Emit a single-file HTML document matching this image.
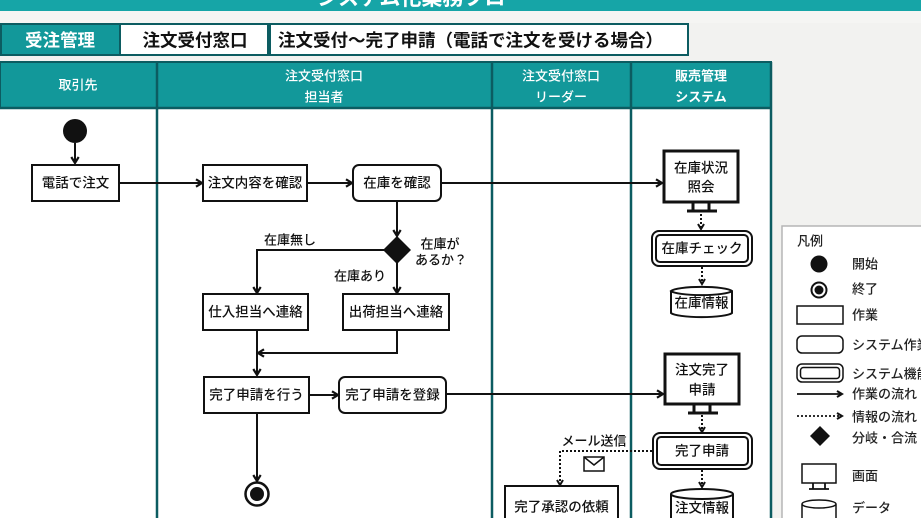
<!DOCTYPE html>
<html><head><meta charset="utf-8">
<style>
html,body{margin:0;padding:0;width:921px;height:518px;overflow:hidden;background:#f3f3f1;}
svg{display:block;font-family:"Liberation Sans","Noto Sans CJK JP",sans-serif;}
</style></head>
<body>
<svg width="921" height="518" viewBox="0 0 921 518" xmlns="http://www.w3.org/2000/svg">
<defs>
<marker id="a" markerWidth="10" markerHeight="10" refX="7" refY="4.5" orient="auto" markerUnits="userSpaceOnUse">
<path d="M1,0.8 L7,4.5 L1,8.2" fill="none" stroke="#111" stroke-width="2.2"/>
</marker>
<marker id="d" markerWidth="10" markerHeight="10" refX="6" refY="4" orient="auto" markerUnits="userSpaceOnUse">
<path d="M1,1 L6,4 L1,7" fill="none" stroke="#111" stroke-width="2"/>
</marker>
</defs>

<rect x="0" y="0" width="921" height="518" fill="#f2f2f0"/>
<rect x="0" y="0" width="921" height="11" fill="#16a5a7"/>
<text x="317" y="5" font-size="21" font-weight="bold" fill="#fff">システム化業務フロー</text>
<rect x="0" y="11" width="921" height="12" fill="#f5f5f3"/>

<rect x="1" y="24" width="119" height="31" fill="#12989a" stroke="#0c5c61" stroke-width="2"/>
<rect x="120" y="24" width="148" height="31" fill="#fff" stroke="#0c5c61" stroke-width="2"/>
<rect x="270" y="24" width="418" height="31" fill="#fff" stroke="#0c5c61" stroke-width="2"/>
<text x="60" y="40.5" font-size="17.5" font-weight="bold" fill="#fff" text-anchor="middle" dominant-baseline="central">受注管理</text>
<text x="195" y="40.5" font-size="17.5" font-weight="bold" fill="#111" text-anchor="middle" dominant-baseline="central">注文受付窓口</text>
<text x="278" y="40.5" font-size="17.5" font-weight="bold" fill="#111" dominant-baseline="central">注文受付～完了申請（電話で注文を受ける場合）</text>

<rect x="0" y="108" width="771" height="420" fill="#fff"/>
<rect x="0" y="62" width="771" height="46" fill="#12989a" stroke="#0c5c61" stroke-width="2"/>
<g stroke="#0c5c61" stroke-width="2.5">
<line x1="157" y1="62" x2="157" y2="518"/>
<line x1="492" y1="62" x2="492" y2="518"/>
<line x1="631" y1="62" x2="631" y2="518"/>
<line x1="771" y1="62" x2="771" y2="518"/>
<line x1="0" y1="108" x2="771" y2="108"/>
</g>
<g font-size="13" font-weight="500" fill="#fff" text-anchor="middle" dominant-baseline="central">
<text x="78" y="85">取引先</text>
<text x="324" y="76">注文受付窓口</text>
<text x="324" y="97">担当者</text>
<text x="561" y="76">注文受付窓口</text>
<text x="561" y="97">リーダー</text>
<text x="701" y="76" font-weight="bold">販売管理</text>
<text x="701" y="97" font-weight="bold">システム</text>
</g>

<g stroke="#111" stroke-width="2" fill="none">
<line x1="75" y1="143" x2="75" y2="163" marker-end="url(#a)"/>
<line x1="119" y1="183" x2="202" y2="183" marker-end="url(#a)"/>
<line x1="307" y1="183" x2="352" y2="183" marker-end="url(#a)"/>
<line x1="441" y1="183" x2="662" y2="183" marker-end="url(#a)"/>
<line x1="397" y1="201" x2="397" y2="236" marker-end="url(#a)"/>
<polyline points="384,250 257,250 257,293" marker-end="url(#a)"/>
<line x1="397" y1="263" x2="397" y2="293" marker-end="url(#a)"/>
<line x1="257" y1="330" x2="257" y2="375" marker-end="url(#a)"/>
<polyline points="397,330 397,353 258,353" marker-end="url(#a)"/>
<line x1="309" y1="395" x2="338" y2="395" marker-end="url(#a)"/>
<line x1="446" y1="394" x2="663" y2="394" marker-end="url(#a)"/>
<line x1="257" y1="413" x2="257" y2="481" marker-end="url(#a)"/>
</g>
<g stroke="#111" stroke-width="2" fill="none" stroke-dasharray="2,2">
<line x1="701" y1="214" x2="701" y2="229" marker-end="url(#d)"/>
<line x1="702" y1="267" x2="702" y2="284" marker-end="url(#d)"/>
<line x1="702" y1="415" x2="702" y2="432" marker-end="url(#d)"/>
<line x1="702" y1="470" x2="702" y2="487" marker-end="url(#d)"/>
<polyline points="652,451 560,451 560,485" marker-end="url(#d)"/>
</g>

<circle cx="75" cy="131" r="12" fill="#111"/>
<circle cx="257" cy="494" r="11.5" fill="#fff" stroke="#111" stroke-width="2.5"/>
<circle cx="257" cy="494" r="7" fill="#111"/>

<g fill="#fff" stroke="#111" stroke-width="2">
<rect x="32" y="165" width="87" height="36"/>
<rect x="203" y="165" width="104" height="36"/>
<rect x="353" y="165" width="88" height="36" rx="6"/>
<rect x="203" y="294" width="105" height="36"/>
<rect x="343" y="294" width="106" height="36"/>
<rect x="204" y="377" width="105" height="36"/>
<rect x="339" y="377" width="107" height="36" rx="6"/>
<rect x="505" y="486" width="113" height="40"/>
</g>
<polygon points="397,236 411,250 397,264 383,250" fill="#111"/>

<g font-size="13.5" font-weight="500" fill="#111" text-anchor="middle" dominant-baseline="central">
<text x="75.5" y="183">電話で注文</text>
<text x="255" y="183">注文内容を確認</text>
<text x="397" y="183">在庫を確認</text>
<text x="255.5" y="312">仕入担当へ連絡</text>
<text x="396" y="312">出荷担当へ連絡</text>
<text x="256.5" y="395">完了申請を行う</text>
<text x="392.5" y="395">完了申請を登録</text>
<text x="561.5" y="507">完了承認の依頼</text>
</g>
<g font-size="13" font-weight="500" fill="#111" text-anchor="middle" dominant-baseline="central">
<text x="290" y="240">在庫無し</text>
<text x="440" y="244">在庫が</text>
<text x="441" y="260">あるか？</text>
<text x="360" y="276">在庫あり</text>
<text x="594" y="441">メール送信</text>
</g>
<rect x="584" y="457" width="20" height="14" fill="#fff" stroke="#111" stroke-width="1.5"/>
<polyline points="584,457 594,465 604,457" fill="none" stroke="#111" stroke-width="1.5"/>

<rect x="664" y="151" width="74" height="51" fill="#fff" stroke="#111" stroke-width="3"/>
<g stroke="#111" stroke-width="3">
<line x1="693" y1="203" x2="693" y2="211"/>
<line x1="709" y1="203" x2="709" y2="211"/>
<line x1="687" y1="211" x2="717" y2="211"/>
</g>
<rect x="652" y="231" width="100" height="35" rx="7" fill="#fff" stroke="#111" stroke-width="2"/>
<rect x="656" y="235" width="92" height="27" rx="4" fill="#fff" stroke="#111" stroke-width="2"/>
<path d="M671,291 L671,313 A31,5 0 0 0 732,313 L732,291 A31,5 0 0 0 671,291 A31,5 0 0 0 732,291" fill="#fff" stroke="#111" stroke-width="2"/>

<rect x="665" y="354" width="74" height="50" fill="#fff" stroke="#111" stroke-width="3"/>
<g stroke="#111" stroke-width="3">
<line x1="694" y1="405" x2="694" y2="413"/>
<line x1="710" y1="405" x2="710" y2="413"/>
<line x1="688" y1="413" x2="718" y2="413"/>
</g>
<rect x="653" y="433" width="99" height="36" rx="7" fill="#fff" stroke="#111" stroke-width="2"/>
<rect x="657" y="437" width="91" height="28" rx="4" fill="#fff" stroke="#111" stroke-width="2"/>
<path d="M671,494 L671,530 L733,530 L733,494 A31,5 0 0 0 671,494 A31,5 0 0 0 733,494" fill="#fff" stroke="#111" stroke-width="2"/>

<g font-size="13.5" font-weight="500" fill="#111" text-anchor="middle" dominant-baseline="central">
<text x="701" y="168">在庫状況</text>
<text x="701" y="187">照会</text>
<text x="702" y="248.5">在庫チェック</text>
<text x="701.5" y="303">在庫情報</text>
<text x="702" y="370">注文完了</text>
<text x="702" y="390">申請</text>
<text x="702" y="451">完了申請</text>
<text x="702" y="508">注文情報</text>
</g>

<rect x="782" y="226" width="160" height="300" fill="#fff" stroke="#b5b5b5" stroke-width="1.5"/>
<circle cx="819" cy="264" r="8.5" fill="#111"/>
<circle cx="819" cy="290" r="7.5" fill="#fff" stroke="#111" stroke-width="2"/>
<circle cx="819" cy="290" r="4.5" fill="#111"/>
<g fill="#fff" stroke="#111" stroke-width="1.5">
<rect x="797" y="306" width="46" height="18"/>
<rect x="797" y="336" width="46" height="17" rx="5"/>
<rect x="797" y="364" width="46" height="18" rx="5"/>
<rect x="800.5" y="367.5" width="39" height="11" rx="3"/>
<rect x="802" y="464" width="34" height="19"/>
<path d="M802,504 L802,530 L836,530 L836,504 A17,4 0 0 0 802,504 A17,4 0 0 0 836,504"/>
</g>
<g stroke="#111" stroke-width="1.8">
<line x1="813" y1="483" x2="813" y2="489"/>
<line x1="825" y1="483" x2="825" y2="489"/>
<line x1="809" y1="489" x2="829" y2="489"/>
</g>
<line x1="797" y1="394" x2="842" y2="394" stroke="#111" stroke-width="1.8" marker-end="url(#d)"/>
<line x1="797" y1="416" x2="842" y2="416" stroke="#111" stroke-width="1.8" stroke-dasharray="2,2" marker-end="url(#d)"/>
<polygon points="820,426 830,436 820,446 810,436" fill="#111"/>
<g font-size="13" font-weight="500" fill="#222" dominant-baseline="central">
<text x="797" y="241">凡例</text>
<text x="852" y="264">開始</text>
<text x="852" y="289">終了</text>
<text x="852" y="315">作業</text>
<text x="852" y="345">システム作業</text>
<text x="852" y="374">システム機能</text>
<text x="852" y="394">作業の流れ</text>
<text x="852" y="417">情報の流れ</text>
<text x="852" y="438">分岐・合流</text>
<text x="852" y="476">画面</text>
<text x="852" y="508">データ</text>
</g>
</svg>
</body></html>
